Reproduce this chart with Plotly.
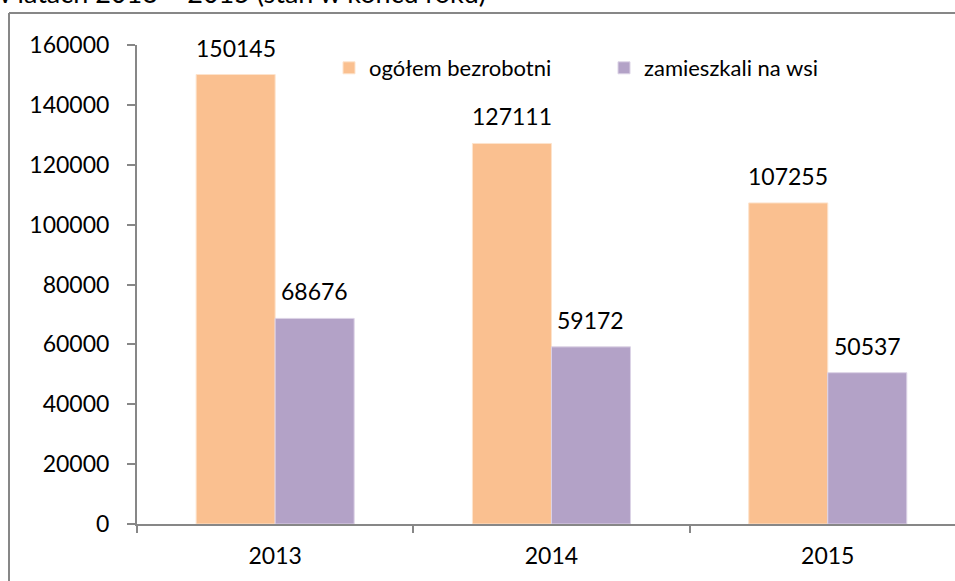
import plotly.graph_objects as go

years = ["2013", "2014", "2015"]
ogolem = [150145, 127111, 107255]
wies = [68676, 59172, 50537]
series_names = ["ogółem bezrobotni", "zamieszkali na wsi"]
colors = ["#FAC090", "#B3A2C7"]
y_ticks = [0, 20000, 40000, 60000, 80000, 100000, 120000, 140000, 160000]
title_text = "w latach 2013 – 2015 (stan w końcu roku)"

FONT = "Lato, 'Open Sans', sans-serif"
W, H = 955, 581
ML, MR, MT, MB = 137, 0, 45, 57
plot_w = W - ML - MR
plot_h = H - MT - MB
cat_px = 276.3

fig = go.Figure()
fig.add_trace(go.Bar(x=years, y=ogolem, name=series_names[0],
                     marker=dict(color=colors[0], line=dict(color="#FDE3CC", width=1))))
fig.add_trace(go.Bar(x=years, y=wies, name=series_names[1],
                     marker=dict(color=colors[1], line=dict(color="#DCD3E6", width=1))))

annotations = []
bar_off = 39.5
for vals, sh in ((ogolem, -bar_off), (wies, bar_off)):
    for i, v in enumerate(vals):
        annotations.append(dict(x=i, y=v, xref="x", yref="y", text=str(v),
                                showarrow=False, xshift=sh, yshift=11,
                                yanchor="bottom", xanchor="center",
                                font=dict(family=FONT, size=23, color="#000")))

annotations.append(dict(x=(488 - ML) / plot_w, y=(H - MB - 11) / plot_h,
                        xref="paper", yref="paper", text=title_text,
                        showarrow=False, xanchor="right", yanchor="bottom",
                        font=dict(family=FONT, size=27, color="#000")))

def px_x(p):
    return (p - ML) / plot_w

def px_y(p):
    return (H - MB - p) / plot_h

shapes = [
    dict(type="line", xref="paper", yref="paper", x0=px_x(9), x1=px_x(9),
         y0=px_y(13), y1=px_y(640), line=dict(color="#878787", width=2)),
    dict(type="line", xref="paper", yref="paper", x0=px_x(9), x1=px_x(1000),
         y0=px_y(13), y1=px_y(13), line=dict(color="#878787", width=2)),
]

fig.update_layout(
    width=W, height=H,
    margin=dict(l=ML, r=MR, t=MT, b=MB, pad=0),
    paper_bgcolor="white", plot_bgcolor="white",
    barmode="group", bargap=0.428, bargroupgap=0,
    font=dict(family=FONT, size=22, color="#000"),
    showlegend=True,
    legend=dict(orientation="h", x=px_x(329), y=px_y(68), xanchor="left",
                yanchor="middle", font=dict(family=FONT, size=22, color="#000"),
                entrywidth=230, entrywidthmode="pixels", bgcolor="rgba(0,0,0,0)",
                borderwidth=0, tracegroupgap=0),
    annotations=annotations,
    shapes=shapes,
    xaxis=dict(type="category", range=[-0.5, -0.5 + plot_w / cat_px],
               showline=True, linecolor="#878787", linewidth=2,
               ticks="outside", tickson="boundaries", ticklen=7, tickwidth=2,
               tickcolor="#878787", showgrid=False, zeroline=False,
               ticklabelstandoff=10, tickfont=dict(family=FONT, size=23, color="#000")),
    yaxis=dict(range=[0, 160000], tickvals=y_ticks, ticktext=[str(v) for v in y_ticks],
               showline=True, linecolor="#878787", linewidth=2,
               ticks="outside", ticklen=8, tickwidth=2, tickcolor="#878787",
               showgrid=False, zeroline=False, ticklabelstandoff=13,
               tickfont=dict(family=FONT, size=23, color="#000")),
)

fig.write_html("out.html", config={"displayModeBar": False},
               post_script="document.body.style.margin='0';document.body.style.overflow='hidden';")
